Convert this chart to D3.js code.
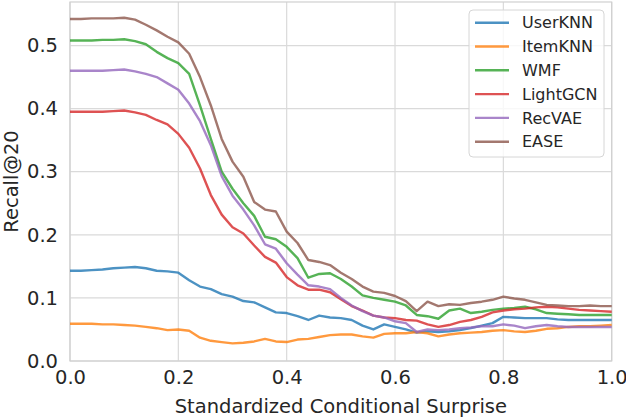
<!DOCTYPE html>
<html>
<head>
<meta charset="utf-8">
<script src="https://cdn.jsdelivr.net/npm/d3@7"></script>
<style>
  body { margin: 0; background: #fff; }
  svg text { font-family: "DejaVu Sans", sans-serif; fill: #262626; }
</style>
</head>
<body>
<div id="maincontent"></div>
<script>
var width = 626, height = 418;
var margin = {top: 2, right: 14.3, bottom: 57, left: 70};

// x grid shared by all series (standardized conditional surprise)
var xs = [0, .02, .04, .06, .08, .10, .12, .14, .16, .18, .20, .22, .24, .26, .28, .30, .32, .34, .36, .38,
          .40, .42, .44, .46, .48, .50, .52, .54, .56, .58, .60, .62, .64, .66, .68, .70, .72, .74, .76, .78,
          .80, .82, .84, .86, .88, .90, .92, .94, .96, .98, 1.0];

var userKNN = [.143, .143, .144, .145, .147, .148, .149, .147, .143, .142, .140, .128, .118, .114, .106, .102, .095, .093, .085, .077,
               .076, .071, .065, .072, .069, .068, .065, .056, .050, .058, .054, .050, .045, .047, .046, .047, .049, .052, .056, .060,
               .070, .069, .068, .068, .068, .066, .065, .065, .065, .065, .065];
var itemKNN = [.059, .059, .059, .058, .058, .057, .056, .054, .052, .049, .050, .048, .037, .032, .030, .028, .029, .031, .035, .031,
               .030, .034, .035, .038, .041, .042, .042, .039, .037, .043, .044, .044, .046, .044, .039, .042, .044, .045, .046, .048,
               .049, .047, .046, .048, .051, .052, .054, .055, .055, .056, .057];
var wmf = [.508, .508, .508, .509, .509, .510, .507, .502, .490, .480, .472, .455, .405, .352, .300, .273, .250, .230, .197, .193,
           .181, .163, .132, .138, .139, .130, .118, .104, .100, .097, .094, .088, .073, .071, .067, .080, .083, .076, .078, .081,
           .083, .084, .086, .082, .076, .075, .074, .073, .073, .073, .073];
var lightGCN = [.395, .395, .395, .395, .396, .397, .394, .390, .382, .375, .360, .338, .305, .263, .232, .212, .202, .183, .165, .156,
                .133, .120, .113, .113, .109, .098, .087, .080, .072, .069, .068, .065, .064, .058, .054, .057, .062, .065, .070, .077,
                .080, .082, .083, .085, .086, .085, .083, .081, .080, .079, .078];
var recVAE = [.460, .460, .460, .460, .461, .462, .459, .455, .450, .440, .430, .408, .380, .342, .293, .262, .240, .215, .185, .178,
              .155, .137, .120, .118, .114, .100, .088, .079, .072, .069, .063, .060, .046, .050, .049, .050, .052, .053, .055, .055,
              .058, .056, .052, .055, .057, .055, .054, .054, .054, .054, .054];
var ease = [.542, .542, .543, .543, .543, .544, .541, .533, .524, .514, .505, .487, .450, .405, .352, .316, .292, .252, .240, .237,
            .205, .187, .160, .157, .152, .140, .130, .118, .110, .108, .103, .095, .079, .094, .087, .090, .089, .092, .094, .097,
            .102, .099, .097, .093, .089, .088, .087, .087, .088, .087, .087];

var names = ["UserKNN", "ItemKNN", "WMF", "LightGCN", "RecVAE", "EASE"];
var colors = ["#1f77b4", "#ff7f0e", "#2ca02c", "#d62728", "#9467bd", "#8c564b"];
var seriesValues = [userKNN, itemKNN, wmf, lightGCN, recVAE, ease];

var xTicks = [0, 0.2, 0.4, 0.6, 0.8, 1.0];
var yTicks = [0, 0.1, 0.2, 0.3, 0.4, 0.5];

var iw = width - margin.left - margin.right,
    ih = height - margin.top - margin.bottom;

var svg = d3.select("#maincontent").append("svg")
    .attr("width", width)
    .attr("height", height);
var g = svg.append("g").attr("transform", "translate(" + margin.left + "," + margin.top + ")");

var x = d3.scaleLinear().domain([0, 1]).range([0, iw]);
var y = d3.scaleLinear().domain([0, 0.569]).range([ih, 0]);

// grid
g.selectAll(".gx").data(xTicks).enter().append("line")
    .attr("x1", function (d) { return x(d); }).attr("x2", function (d) { return x(d); })
    .attr("y1", 0).attr("y2", ih)
    .attr("stroke", "#dadada").attr("stroke-width", 1.2);
g.selectAll(".gy").data(yTicks).enter().append("line")
    .attr("x1", 0).attr("x2", iw)
    .attr("y1", function (d) { return y(d); }).attr("y2", function (d) { return y(d); })
    .attr("stroke", "#dadada").attr("stroke-width", 1.2);

// frame
g.append("rect").attr("x", 0).attr("y", 0).attr("width", iw).attr("height", ih)
    .attr("fill", "none").attr("stroke", "#d0d0d0").attr("stroke-width", 1.2);

// axes (tick labels only, whitegrid style has no tick marks)
var xAxis = g.append("g").attr("transform", "translate(0," + ih + ")")
    .call(d3.axisBottom(x).tickValues(xTicks).tickFormat(d3.format(".1f")).tickSize(0).tickPadding(9));
var yAxis = g.append("g")
    .call(d3.axisLeft(y).tickValues(yTicks).tickFormat(d3.format(".1f")).tickSize(0).tickPadding(12));
[xAxis, yAxis].forEach(function (a) {
    a.select(".domain").remove();
    a.selectAll("text").style("font-size", "19.5px").attr("fill", "#262626")
        .style("font-family", "'DejaVu Sans', sans-serif");
});

// lines
var line = d3.line()
    .x(function (d, i) { return x(xs[i]); })
    .y(function (d) { return y(d); });

g.selectAll(".series").data(seriesValues).enter().append("path")
    .attr("d", line)
    .attr("fill", "none")
    .attr("stroke", function (d, i) { return colors[i]; })
    .attr("stroke-width", 2.4)
    .attr("stroke-opacity", 0.8)
    .attr("stroke-linejoin", "round");

// labels
svg.append("text")
    .attr("x", margin.left + iw / 2).attr("y", 413)
    .attr("text-anchor", "middle").style("font-size", "19.5px")
    .text("Standardized Conditional Surprise");
svg.append("text")
    .attr("transform", "translate(18," + (margin.top + ih / 2) + ")rotate(-90)")
    .attr("text-anchor", "middle").style("font-size", "19.5px")
    .text("Recall@20");

// legend
var legend = svg.append("g").attr("transform", "translate(469,10)");
legend.append("rect").attr("width", 135).attr("height", 147).attr("rx", 4)
    .attr("fill", "#fff").attr("fill-opacity", 0.8)
    .attr("stroke", "#d6d6d6").attr("stroke-width", 1);
var items = legend.selectAll(".item").data(names).enter().append("g")
    .attr("transform", function (d, i) { return "translate(0," + (12.7 + i * 23.8) + ")"; });
items.append("line").attr("x1", 6).attr("x2", 40)
    .attr("stroke", function (d, i) { return colors[i]; })
    .attr("stroke-width", 2.4).attr("stroke-opacity", 0.8);
items.append("text").attr("x", 53).attr("dy", "0.36em")
    .style("font-size", "16px").text(function (d) { return d; });
</script>
</body>
</html>
